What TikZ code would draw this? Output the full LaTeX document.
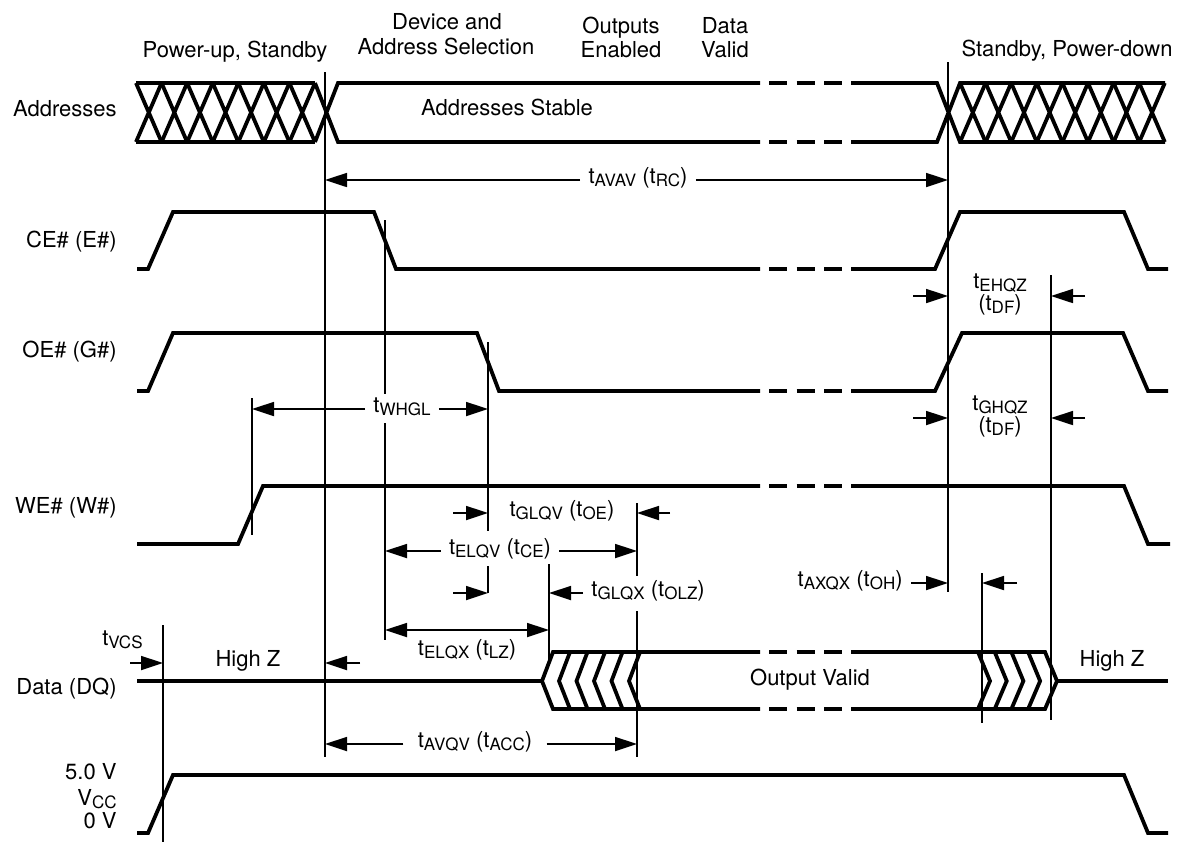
\documentclass[tikz,border=0pt]{standalone}
\usepackage{fontspec}
\setmainfont{TeX Gyre Heros}
\usetikzlibrary{arrows.meta,calc}
\newcommand{\lo}[1]{\raisebox{-0.3ex}{\fontsize{8.5}{9}\selectfont #1}}

\tikzset{
  sig/.style={line width=1.9pt},
  brk/.style={sig, dash pattern=on 9pt off 4.75pt, dash phase=9.25pt},
  vline/.style={line width=0.85pt},
  dim/.style={line width=0.85pt, -{Triangle[length=11pt,width=7pt]}},
  dimboth/.style={line width=0.85pt, {Triangle[length=11pt,width=7pt]}-{Triangle[length=11pt,width=7pt]}},
  lbl/.style={inner sep=0pt, font=\fontsize{11}{12.5}\selectfont},
  tlab/.style={font=\fontsize{11}{12.5}\selectfont, inner xsep=4pt, inner ysep=0pt, text height=6pt, text depth=3pt},
  tdf/.style={font=\fontsize{11}{11}\selectfont, inner sep=0pt, align=center},
}

\begin{document}
\begin{tikzpicture}[x=0.5pt,y=-0.5pt]
\useasboundingbox (0,0) rectangle (1182,842);

% phase headers
\node[lbl, anchor=base] (hPow) at (235,57) {Power-up, Standby};
\node[lbl, anchor=base] (hDev) at (447,29) {Device and};
\node[lbl, anchor=base] (hSel) at (446,54) {Address Selection};
\node[lbl, anchor=base] (hOut) at (621,33) {Outputs};
\node[lbl, anchor=base] (hEna) at (621,57) {Enabled};
\node[lbl, anchor=base] (hDat) at (725,33) {Data};
\node[lbl, anchor=base] (hVal) at (725,57) {Valid};
\node[lbl, anchor=base] (hStb) at (1067,56) {Standby, Power-down};

% signal names
\node[lbl, anchor=base east] (nAddr) at (117,116) {Addresses};
\node[lbl, anchor=base east] (nCE) at (117,247) {CE\# (E\#)};
\node[lbl, anchor=base east] (nOE) at (117,357) {OE\# (G\#)};
\node[lbl, anchor=base east] (nWE) at (117,513) {WE\# (W\#)};
\node[lbl, anchor=base east] (nDQ) at (117,694) {Data (DQ)};
\node[lbl, anchor=base east] (nV5) at (117,779) {5.0 V};
\node[lbl, anchor=base east] (nVcc) at (117,805) {V\lo{CC}};
\node[lbl, anchor=base east] (nV0) at (117,828) {0 V};

% addresses
\draw[sig] (136,83) -- (315,83) (136,142) -- (315,142);
\foreach \i in {0,...,6}
  \draw[sig] ({136+25.57*\i},83) -- ({161.57+25.57*\i},142)
             ({136+25.57*\i},142) -- ({161.57+25.57*\i},83);
\draw[sig] (315,83) -- (338,142) -- (760,142) (315,142) -- (338,83) -- (760,83);
\draw[sig] (851,83) -- (937,83) -- (960,142) -- (1165,142)
           (851,142) -- (937,142) -- (960,83) -- (1165,83);
\foreach \i in {0,...,7}
  \draw[sig] ({960+25.6*\i},83) -- ({985.6+25.6*\i},142)
             ({960+25.6*\i},142) -- ({985.6+25.6*\i},83);
\node[lbl, anchor=base] (sAddr) at (507,115) {Addresses Stable};

% CE#, OE#, WE#
\draw[sig] (137,269) -- (148,269) -- (173,212) -- (374,212) -- (396,269) -- (760,269);
\draw[sig] (851,269) -- (935,269) -- (960,212) -- (1124,212) -- (1148,269) -- (1168,269);
\draw[sig] (137,391) -- (148,391) -- (173,333) -- (477,333) -- (499,391) -- (760,391);
\draw[sig] (851,391) -- (935,391) -- (962,333) -- (1123,333) -- (1148,391) -- (1168,391);
\draw[sig] (137,544) -- (238,544) -- (263,486) -- (760,486);
\draw[sig] (851,486) -- (1124,486) -- (1148,544) -- (1170,544);

% data
\draw[sig] (137,681) -- (542,681) -- (553,652) -- (760,652)
           (542,681) -- (553,709) -- (760,709);
\foreach \i in {0,...,4}
  \draw[sig] ({570+17.5*\i},652) -- ({559+17.5*\i},681) -- ({570+17.5*\i},709);
\draw[sig] (851,652) -- (1045,652) -- (1057,681) -- (1045,709) -- (851,709);
\foreach \i in {0,...,3}
  \draw[sig] ({978+16.7*\i},652) -- ({990+16.7*\i},681) -- ({978+16.7*\i},709);
\draw[sig] (1057,681) -- (1168,681);
\node[lbl, anchor=base] (sOut) at (810,685) {Output Valid};
\node[lbl, anchor=base] (hzL) at (248,666) {High Z};
\node[lbl, anchor=base] (hzR) at (1112,666) {High Z};

% Vcc
\draw[sig] (137,833) -- (148,833) -- (173,775) -- (1124,775) -- (1148,833) -- (1168,833);

% time breaks
\foreach \y in {83,142,269,391,486,652,709}
  \draw[brk] (760,\y) -- (851,\y);

% event markers
\draw[vline] (325,72) coordinate (av) -- (325,757);
\draw[vline] (948,62) coordinate (ax) -- (948,592);
\draw[vline] (385,220) coordinate (el) -- (385,394) (385,423) -- (385,640);
\draw[vline] (488,342) coordinate (gl) -- (488,531) (488,566) -- (488,593);
\draw[vline] (252,398) coordinate (wh) -- (252,535);
\draw[vline] (549,564) coordinate (qx) -- (549,662);
\draw[vline] (637,503) coordinate (qv) -- (637,576) (637,611) -- (637,757);
\draw[vline] (982,573) coordinate (oh) -- (982,723);
\draw[vline] (1051,275) coordinate (qz) -- (1051,720);
\draw[vline] (163,625) coordinate (vcs) -- (163,842);

% timing parameters
\node[tlab] (lRC) at (638,180) {t\lo{AVAV} (t\lo{RC})};
\draw[dim] (lRC) -- (av |- lRC);
\draw[dim] (lRC) -- (ax |- lRC);

\node[tlab] (lWHGL) at (402,409) {t\lo{WHGL}};
\draw[dim] (lWHGL) -- (wh |- lWHGL);
\draw[dim] (lWHGL) -- (gl |- lWHGL);

\node[tlab] (lOE) at (562,513) {t\lo{GLQV} (t\lo{OE})};
\coordinate (oeL) at (453,513);
\coordinate (oeR) at (670,513);
\draw[dim] (oeL) -- (gl |- oeL);
\draw[dim] (oeR) -- (qv |- oeR);

\node[tlab] (lCE) at (500,551) {t\lo{ELQV} (t\lo{CE})};
\draw[dim] (lCE) -- (el |- lCE);
\draw[dim] (lCE) -- (qv |- lCE);

\coordinate (olzL) at (453,593);
\draw[dim] (olzL) -- (gl |- olzL);
\node[tlab, anchor=west] (lOLZ) at (583,593) {t\lo{GLQX} (t\lo{OLZ})};
\draw[dim] (lOLZ) -- (qx |- lOLZ);

\coordinate (lz) at (467,630);
\draw[dimboth] (el |- lz) -- (qx |- lz);
\node[tlab] (lLZ) at (467,652) {t\lo{ELQX} (t\lo{LZ})};

\node[tlab, inner xsep=7pt] (lACC) at (475,744) {t\lo{AVQV} (t\lo{ACC})};
\draw[dim] (lACC) -- (av |- lACC);
\draw[dim] (lACC) -- (qv |- lACC);

\node[tlab, anchor=east] (lOH) at (911,583) {t\lo{AXQX} (t\lo{OH})};
\draw[dim] (lOH) -- (ax |- lOH);
\coordinate (ohR) at (1017,583);
\draw[dim] (ohR) -- (oh |- ohR);

\node[tdf] (lEHQZ) at (1000,294) {t\lo{EHQZ}\\(t\lo{DF})};
\coordinate (ehL) at (913,296);
\coordinate (ehR) at (1085,296);
\draw[dim] (ehL) -- (ax |- ehL);
\draw[dim] (ehR) -- (qz |- ehR);

\node[tdf] (lGHQZ) at (1000,416) {t\lo{GHQZ}\\(t\lo{DF})};
\coordinate (ghL) at (913,418);
\coordinate (ghR) at (1085,418);
\draw[dim] (ghL) -- (ax |- ghL);
\draw[dim] (ghR) -- (qz |- ghR);

\node[lbl, anchor=base east] (lVCS) at (143,645) {t\lo{VCS}};
\coordinate (vcsL) at (130,663);
\draw[dim] (vcsL) -- (vcs |- vcsL);

\coordinate (hzA) at (360,663);
\draw[dim] (hzA) -- (av |- hzA);
\end{tikzpicture}
\end{document}
